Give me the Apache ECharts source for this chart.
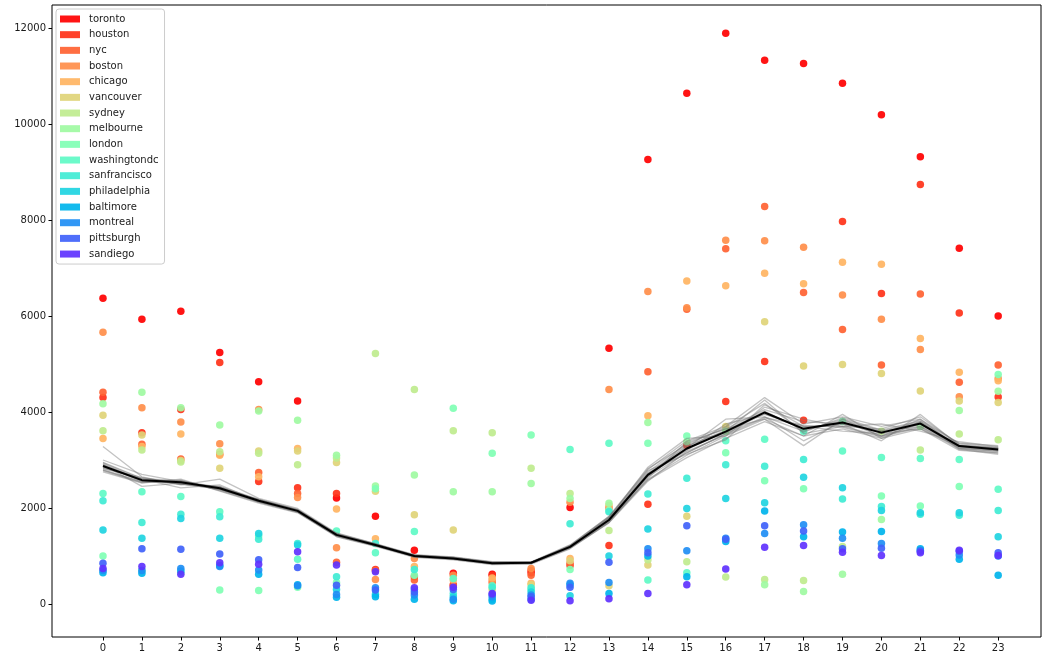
<!DOCTYPE html>
<html>
<head>
<meta charset="utf-8">
<script src="https://cdn.jsdelivr.net/npm/echarts@6/dist/echarts.min.js"></script>
<style>
  html, body { margin: 0; padding: 0; background: #fff; }
  #chart { width: 1042px; height: 657px; }
</style>
</head>
<body>
<div id="chart"></div>
<script>
// Hour of day on the x axis
const hours = [0,1,2,3,4,5,6,7,8,9,10,11,12,13,14,15,16,17,18,19,20,21,22,23];
const yTicks = [0, 2000, 4000, 6000, 8000, 10000, 12000];

// Hourly counts per city
const cities = ['toronto','houston','nyc','boston','chicago','vancouver','sydney','melbourne',
  'london','washingtondc','sanfrancisco','philadelphia','baltimore','montreal','pittsburgh','sandiego'];

const toronto      = [6370,5930,6100,5240,4630,4230,2210,1830,1120,640,620,650,2010,5330,9260,10640,11890,11330,11260,10850,10190,9320,7410,6000];
const houston      = [4300,3570,4050,5030,2550,2420,2300,720,570,400,600,700,800,1220,2080,3300,4220,5050,3830,7970,6470,8740,6060,4310];
const nyc          = [4410,3330,3020,3120,2740,2300,870,700,500,380,450,600,850,2000,4840,6140,7400,8280,6490,5720,4980,6460,4620,4980];
const boston       = [5660,4090,3790,3340,4050,2220,1170,510,950,600,500,740,2120,4470,6510,6170,7580,7570,7430,6440,5930,5300,4320,4700];
const chicago      = [3450,3280,3540,3100,2650,3240,1980,1360,780,500,540,430,950,2050,3920,6730,6630,6890,6670,7120,7080,5530,4830,4650];
const vancouver    = [3930,3520,2990,2830,3190,3190,2950,2350,1860,1540,300,400,900,380,810,1830,3700,5880,4960,4990,4800,4440,4230,4200];
const sydney       = [3610,3210,2960,3170,3140,2900,3040,5220,4470,3610,3570,2830,2300,1530,920,880,560,510,490,1200,3600,3210,3540,3420];
const melbourne    = [4170,4410,4090,3730,4020,3830,3100,2460,2690,2340,2340,2510,2200,2100,3780,3380,3600,400,260,620,1760,3700,4030,4430];
const london       = [1000,700,650,290,280,350,450,2400,600,4080,3140,3520,720,1950,3350,3500,3150,2570,2400,3800,2250,2040,2450,4780];
const washingtondc = [2300,2340,2240,1920,1420,930,1520,1070,1510,530,380,300,3220,3350,500,650,3400,3430,3600,3190,3050,3030,3010,2390];
const sanfrancisco = [2150,1700,1870,1820,1350,1260,570,1260,720,220,350,340,1670,1920,2290,2620,2900,2870,3010,2190,2030,1870,1850,1950];
const philadelphia = [1540,1370,1780,1370,1470,1230,300,200,300,150,100,250,170,1000,1560,1990,2200,2110,2640,2420,1950,1900,1900,1400];
const baltimore    = [650,640,690,800,620,400,140,150,100,70,60,100,400,220,1000,570,1300,1940,1400,1500,1510,1150,930,600];
const montreal     = [700,700,740,780,710,380,200,340,190,100,150,190,430,450,1150,1110,1370,1470,1650,1370,1260,1120,1020,1000];
const pittsburgh   = [850,1150,1140,1040,920,760,390,290,250,300,200,150,350,870,1070,1630,1350,1630,1520,1150,1160,1100,1100,1070];
const sandiego     = [740,780,620,860,830,1090,810,670,340,350,220,80,70,110,220,400,730,1180,1220,1080,1010,1070,1120,1010];

const cityValues = [toronto, houston, nyc, boston, chicago, vancouver, sydney, melbourne,
  london, washingtondc, sanfrancisco, philadelphia, baltimore, montreal, pittsburgh, sandiego];

// Average across all cities
const meanLine = [2875,2580,2535,2410,2150,1940,1440,1230,1000,950,850,860,1190,1750,2690,3240,3590,3990,3650,3780,3570,3760,3290,3220];

// Resampled averages drawn as a faint band
const resample1  = [3280,2650,2480,2600,2200,1990,1480,1260,1030,980,880,880,1230,1820,2800,3400,3700,4300,3750,3900,3700,3850,3350,3300];
const resample2  = [2750,2520,2600,2350,2100,1900,1400,1200,970,920,820,830,1150,1700,2600,3100,3500,3850,3500,3650,3450,3650,3200,3150];
const resample3  = [2950,2620,2500,2450,2180,1960,1460,1250,1010,960,860,870,1200,1800,2750,3350,3650,4050,3800,3750,3600,3800,3300,3250];
const resample4  = [2800,2550,2560,2380,2130,1920,1420,1210,990,940,840,850,1170,1720,2650,3150,3550,3900,3600,3850,3500,3700,3250,3180];
const resample5  = [2900,2450,2520,2420,2170,1970,1450,1240,1010,970,860,860,1210,1780,2720,3300,3600,4250,3550,3700,3650,3900,3320,3240];
const resample6  = [2850,2600,2420,2480,2140,1930,1430,1220,1000,950,850,850,1180,1760,2700,3200,3750,3950,3700,3600,3550,3650,3280,3200];
const resample7  = [3000,2700,2550,2400,2160,1950,1460,1230,1000,940,850,860,1190,1730,2580,3050,3450,3800,3500,3950,3450,3800,3220,3120];
const resample8  = [2780,2530,2580,2360,2120,1910,1420,1220,990,950,840,860,1200,1790,2850,3450,3500,4100,3850,3700,3750,3600,3380,3280];
const resample9  = [2920,2570,2500,2440,2170,1950,1450,1240,1020,970,870,870,1190,1740,2660,3250,3850,3900,3400,3800,3500,3750,3260,3200];
const resample10 = [2830,2610,2570,2390,2140,1940,1440,1230,990,940,840,850,1180,1770,2720,3150,3550,4000,3650,3750,3400,3950,3300,3250];
const resample11 = [2880,2560,2540,2430,2160,1960,1450,1230,1000,960,860,860,1180,1700,2620,3380,3650,3850,3300,3850,3600,3700,3300,3230];
const resample12 = [2820,2640,2490,2400,2150,1930,1430,1240,1010,950,850,870,1210,1810,2780,3120,3420,4150,3700,3700,3500,3850,3240,3180];
const resample13 = [2900,2590,2560,2420,2170,1950,1440,1220,1000,960,850,850,1190,1760,2700,3280,3620,4020,3620,3820,3580,3780,3290,3230];
const resample14 = [2860,2570,2520,2400,2140,1940,1450,1240,1000,950,860,860,1190,1740,2680,3220,3580,3960,3680,3760,3560,3740,3280,3210];
const resample15 = [2940,2600,2510,2390,2180,1960,1470,1250,1020,970,870,870,1220,1830,2820,3320,3680,4180,3580,3880,3620,3820,3340,3270];
const resample16 = [2790,2540,2550,2440,2120,1920,1410,1210,980,930,830,840,1160,1690,2560,3180,3520,3880,3720,3680,3480,3680,3230,3150];
const resamples = [resample1, resample2, resample3, resample4, resample5, resample6, resample7, resample8,
  resample9, resample10, resample11, resample12, resample13, resample14, resample15, resample16];

// Rainbow colormap sampled for each city (red at toronto, violet at sandiego)
function rainbow(t) {
  const r = Math.min(1, Math.abs(2 * t - 0.5));
  const g = Math.sin(t * Math.PI);
  const b = Math.cos(t * Math.PI / 2);
  const h = v => Math.round(Math.max(0, Math.min(1, v)) * 255).toString(16).padStart(2, '0');
  return '#' + h(r) + h(g) + h(b);
}
const n = cities.length;
const cityColors = cities.map((c, i) => rainbow((n - i) / n));

const pair = arr => hours.map((h, i) => [h, arr[i]]);

const series = [];
cities.forEach((name, i) => {
  series.push({
    name: name,
    type: 'scatter',
    data: pair(cityValues[i]),
    symbolSize: 7.5,
    itemStyle: { color: cityColors[i], opacity: 0.92 },
    z: 2
  });
});
resamples.forEach((arr, i) => {
  series.push({
    name: 'resample' + (i + 1),
    type: 'line',
    data: pair(arr),
    showSymbol: false,
    symbol: 'none',
    silent: true,
    lineStyle: { color: '#707070', width: 1.3, opacity: 0.42 },
    z: 3
  });
});
series.push({
  name: 'mean',
  type: 'line',
  data: pair(meanLine),
  symbol: 'none',
  silent: true,
  lineStyle: { color: '#000', width: 2 },
  z: 4
});

const font = 'DejaVu Sans';
const chart = echarts.init(document.getElementById('chart'), null, { renderer: 'canvas' });
chart.setOption({
  animation: false,
  backgroundColor: '#fff',
  grid: {
    left: 52, right: 1, top: 5, bottom: 20,
    show: true, borderColor: '#000', borderWidth: 1, backgroundColor: 'transparent'
  },
  xAxis: {
    type: 'value',
    min: -1.31, max: 24.1,
    axisLine: { show: false, onZero: false },
    splitLine: { show: false },
    axisTick: { show: true, length: 3.5, lineStyle: { color: '#000' }, customValues: hours },
    axisLabel: { show: true, customValues: hours, color: '#1a1a1a', fontFamily: font, fontSize: 10, margin: 6,
      formatter: v => String(v) }
  },
  yAxis: {
    type: 'value',
    min: -687.5, max: 12479,
    axisLine: { show: false, onZero: false },
    splitLine: { show: false },
    axisTick: { show: true, length: 3.5, lineStyle: { color: '#000' }, customValues: yTicks },
    axisLabel: { show: true, customValues: yTicks, color: '#1a1a1a', fontFamily: font, fontSize: 10, margin: 6,
      formatter: v => String(v) }
  },
  legend: {
    data: cities,
    orient: 'vertical',
    left: 56, top: 9,
    padding: [4, 6, 4, 4],
    icon: 'rect',
    itemWidth: 20, itemHeight: 7,
    itemGap: 3.67,
    backgroundColor: 'rgba(255,255,255,0.8)',
    borderColor: '#cccccc', borderWidth: 1, borderRadius: 3,
    selectedMode: false,
    textStyle: { fontFamily: font, fontSize: 10, color: '#1a1a1a', lineHeight: 12, padding: [0, 0, 0, 4] }
  },
  series: series
});
</script>
</body>
</html>
